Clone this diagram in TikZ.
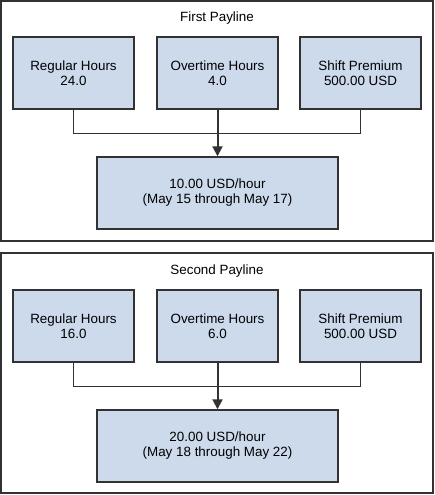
\documentclass[tikz,border=0pt]{standalone}
\usepackage{fontspec}
\setmainfont{Liberation Sans}
\usetikzlibrary{arrows.meta}
\definecolor{boxblue}{RGB}{205,218,236}
\definecolor{edgegray}{RGB}{50,50,50}
\begin{document}
\begin{tikzpicture}[x=1pt, y=-1pt, font=\fontsize{13.4pt}{15pt}\selectfont,
		panel/.style={draw=edgegray, line width=1.4pt, minimum width=432pt, minimum height=240pt, inner sep=0pt},
		hours/.style={draw=edgegray, fill=boxblue, line width=1.4pt, minimum width=121pt, minimum height=72pt, align=center, inner sep=0pt},
		rate/.style={hours, minimum width=241pt},
		link/.style={edgegray, line width=1.4pt}]
			\useasboundingbox (0,0) rectangle (435,495);
			% first payline
			\node [panel] (pay1) at (217,121) {};
			\node (title1) at (217,18) {First Payline};
			\node [hours] (reg1) at (73.5,73) {Regular Hours\\24.0};
			\node [hours] (over1) at (217.5,73) {Overtime Hours\\4.0};
			\node [hours] (shift1) at (360.5,73) {Shift Premium\\500.00 USD};
			\node [rate] (rate1) at (217.5,193) {10.00 USD/hour\\(May 15 through May 17)};
			\draw [link] (reg1.south) -- ++(0,24) -| (shift1.south);
			\draw [link, line width=2pt, -{Triangle[length=10pt, width=10pt]}] (over1.south) -- (rate1.north);
			% second payline
			\node [panel] (pay2) at (217,373) {};
			\node (title2) at (217,271) {Second Payline};
			\node [hours] (reg2) at (73.5,326) {Regular Hours\\16.0};
			\node [hours] (over2) at (217.5,326) {Overtime Hours\\6.0};
			\node [hours] (shift2) at (360.5,326) {Shift Premium\\500.00 USD};
			\node [rate] (rate2) at (217.5,446) {20.00 USD/hour\\(May 18 through May 22)};
			\draw [link] (reg2.south) -- ++(0,24) -| (shift2.south);
			\draw [link, line width=2pt, -{Triangle[length=10pt, width=10pt]}] (over2.south) -- (rate2.north);
\end{tikzpicture}
\end{document}
